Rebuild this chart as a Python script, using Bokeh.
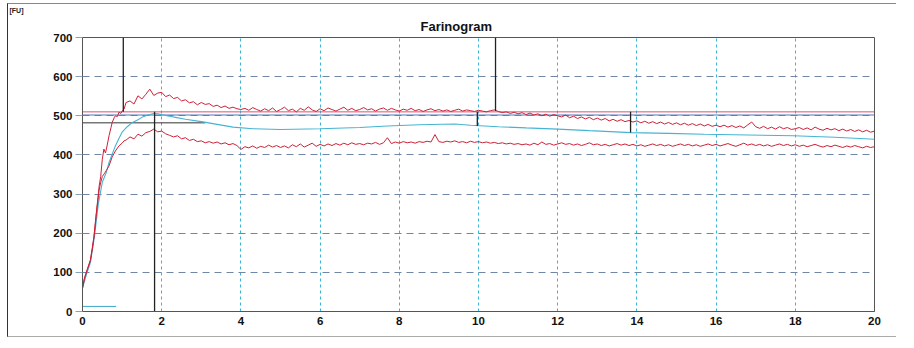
from bokeh.plotting import figure
from bokeh.models import FixedTicker, Range1d, Title
from bokeh.embed import file_html
from bokeh.resources import INLINE

# ---------------- data ----------------
x_ticks = [0, 2, 4, 6, 8, 10, 12, 14, 16, 18, 20]
y_ticks = [0, 100, 200, 300, 400, 500, 600, 700]

upper_early_x = [0, 0.05, 0.12, 0.2, 0.25, 0.29, 0.35, 0.42, 0.46, 0.5, 0.54, 0.58,
                 0.62, 0.67, 0.72, 0.75, 0.8, 0.83, 0.88, 0.92, 0.97, 1.0, 1.05]
upper_early_y = [60, 85, 107, 132, 165, 192, 253, 320, 345, 389, 415, 405,
                 423, 449, 470, 483, 495, 500, 498, 509, 506, 512, 517]
# upper band, every 0.1 min from 1.1 to 20.0
upper_y = [
    534, 538, 530, 551, 543, 555, 568, 552, 558, 560,
    549, 553, 544, 547, 538, 541, 533, 536, 528, 534,
    529, 531, 524, 527, 521, 525, 519, 522, 518, 516,
    519, 514, 521, 516, 512, 518, 513, 520, 511, 516,
    522, 513, 517, 510, 519, 514, 523, 515, 511, 518,
    513, 520, 516, 512, 517, 522, 514, 519, 513, 516,
    521, 515, 518, 512, 517, 520, 514, 519, 515, 512,
    517, 514, 519, 513, 516, 511, 515, 518, 513, 516,
    512, 515, 511, 514, 517, 512, 515, 513, 511, 514,
    512, 510, 513, 515, 511, 508, 510, 506, 509, 505,
    508, 503, 507, 502, 505, 500, 504, 499, 503, 500,
    497, 502, 495, 499, 493, 497, 492, 496, 490, 494,
    489, 493, 487, 491, 486, 490, 485, 488, 484, 487,
    482, 486, 481, 485, 480, 484, 479, 483, 478, 482,
    477, 481, 476, 480, 475, 479, 474, 478, 473, 476,
    472, 476, 471, 475, 470, 474, 469, 477, 484, 472,
    468, 473, 467, 471, 466, 472, 467, 470, 465, 467,
    470, 465, 469, 464, 471, 466, 463, 468, 464, 467,
    462, 466, 461, 465, 460, 464, 459, 463, 458, 461,
]

lower_early_x = [0, 0.05, 0.12, 0.2, 0.25, 0.29, 0.35, 0.42, 0.46, 0.5, 0.55, 0.6,
                 0.67, 0.75, 0.83, 0.92, 1.0, 1.05]
lower_early_y = [60, 85, 107, 130, 160, 190, 250, 310, 330, 345, 352, 360,
                 372, 395, 410, 423, 430, 436]
# lower band, every 0.1 min from 1.1 to 20.0
lower_y = [
    438, 446, 441, 453, 448, 457, 460, 466, 459, 461,
    454, 450, 446, 449, 441, 444, 437, 440, 434, 436,
    431, 434, 430, 433, 428, 431, 426, 429, 424, 414,
    421, 418, 423, 417, 422, 419, 425, 420, 424, 419,
    423, 418, 426, 421, 428, 420, 425, 430, 422, 427,
    423, 428, 424, 429, 425, 430, 426, 431, 427, 429,
    426, 430, 428, 432, 427, 431, 444, 429, 433, 430,
    434, 431, 433, 430, 434, 432, 435, 433, 452, 434,
    432, 435, 433, 436, 432, 434, 431, 435, 432, 434,
    431, 433, 430, 432, 429, 431, 428, 430, 427, 429,
    426, 428, 425, 430, 426, 433, 427, 429, 425, 428,
    431, 427, 429, 425, 428, 424, 427, 431, 426, 428,
    424, 427, 423, 426, 429, 425, 428, 424, 427, 423,
    426, 422, 425, 428, 424, 427, 423, 426, 422, 425,
    428, 424, 427, 423, 426, 422, 425, 428, 424, 427,
    423, 426, 429, 425, 422, 426, 430, 425, 428, 424,
    427, 423, 426, 422, 425, 428, 424, 427, 423, 426,
    422, 425, 421, 424, 427, 423, 420, 424, 421, 425,
    422, 419, 423, 420, 424, 421, 418, 422, 419, 421,
]

mid_x = [0, 0.1, 0.2, 0.3, 0.4, 0.5, 0.6, 0.67, 0.75, 0.83, 0.92, 1.0, 1.13, 1.26,
         1.4, 1.5, 1.65, 1.8, 1.9, 2.0, 2.2, 2.35, 2.6, 3.0, 3.4, 3.8, 4.3, 5.0,
         6.0, 7.0, 7.7, 8.5, 9.4, 9.8, 10.5, 11.2, 12.0, 12.8, 13.85, 14.8, 15.7,
         16.8, 17.95, 19.0, 20.0]
mid_y = [60, 95, 125, 190, 275, 330, 355, 381, 402, 423, 442, 458, 472, 483,
         490, 496, 502, 506, 505, 503, 499, 496, 491, 485, 478, 471, 467, 465,
         467, 470, 474, 477, 479, 476, 472, 469, 466, 462, 457, 455, 453,
         451, 449, 445, 440]

ref_red = 510
ref_blue = 502
ref_black = 482
ref_black_end = 3.1
short_cyan_y = 13
short_cyan_end = 0.85

marker_x = [1.03, 1.82, 10.43, 9.97, 13.84]
marker_y0 = [700, 0, 700, 510, 510]
marker_y1 = [510, 510, 512, 474, 457]

# ---------------- figure ----------------
step_x = [round(1.1 + 0.1 * i, 2) for i in range(len(upper_y))]

p = figure(width=889, height=334, output_backend="svg", toolbar_location=None,
           x_range=Range1d(0, 20), y_range=Range1d(0, 700),
           min_border_left=74, min_border_right=23, min_border_top=30,
           min_border_bottom=27,
           styles={"margin-left": "7px", "margin-top": "3px",
                   "border-left": "1px solid #333",
                   "border-top": "1px solid #888", "border-bottom": "1px solid #aaa"})

# outermost title: unit label in the top-left corner
p.title.text = "[FU]"
p.title.align = "left"
p.title.offset = -73
p.title.standoff = 0
p.title.text_font = "Liberation Sans"
p.title.text_font_size = "7px"
p.title.text_font_style = "bold"
p.title.text_color = "#222"

# chart title, closer to the frame
p.add_layout(Title(text="Farinogram", align="left", offset=338, standoff=7,
                   text_font="Liberation Sans", text_font_size="13px",
                   text_font_style="bold", text_color="#111"), "above")

p.outline_line_color = "#555"
p.background_fill_color = "white"

p.xaxis.ticker = FixedTicker(ticks=x_ticks)
p.yaxis.ticker = FixedTicker(ticks=y_ticks)
for ax in (p.xaxis[0], p.yaxis[0]):
    ax.major_label_text_font = "Liberation Sans"
    ax.major_label_text_font_size = "11.5px"
    ax.major_label_text_font_style = "bold"
    ax.major_label_text_color = "#111"
    ax.axis_line_color = "#555"
    ax.minor_tick_line_color = None
    ax.major_tick_in = 0
p.xaxis.major_tick_out = 0
p.xaxis.major_label_standoff = 5
p.yaxis.major_tick_out = 7
p.yaxis.major_tick_line_color = "#8aa0bb"
p.yaxis.major_label_standoff = 3

p.xgrid.ticker = FixedTicker(ticks=x_ticks[1:-1])
p.xgrid.grid_line_color = "#3cb4d6"
p.xgrid.grid_line_dash = "3 3"
p.xgrid.grid_line_width = 1
p.ygrid.ticker = FixedTicker(ticks=y_ticks[1:-1])
p.ygrid.grid_line_color = "#6f86a6"
p.ygrid.grid_line_dash = "7 5"
p.ygrid.grid_line_width = 1

# reference lines
p.line([0, 20], [ref_red, ref_red], line_color="#e0506a", line_width=1)
p.line([0, 20], [ref_blue, ref_blue], line_color="#4a7cc0", line_width=1)
p.line([0, ref_black_end], [ref_black, ref_black], line_color="#333", line_width=1)
p.line([0, short_cyan_end], [short_cyan_y, short_cyan_y], line_color="#3aa8c8", line_width=1)

# curves
p.line(mid_x, mid_y, line_color="#45b4d4", line_width=1.1)
p.line(upper_early_x + step_x, upper_early_y + upper_y, line_color="#cc2238", line_width=1)
p.line(lower_early_x + step_x, lower_early_y + lower_y, line_color="#cc2238", line_width=1)

# markers
p.segment(x0=marker_x, y0=marker_y0, x1=marker_x, y1=marker_y1,
          line_color="#222", line_width=1.3)

open("out.html", "w").write(file_html(p, INLINE))
